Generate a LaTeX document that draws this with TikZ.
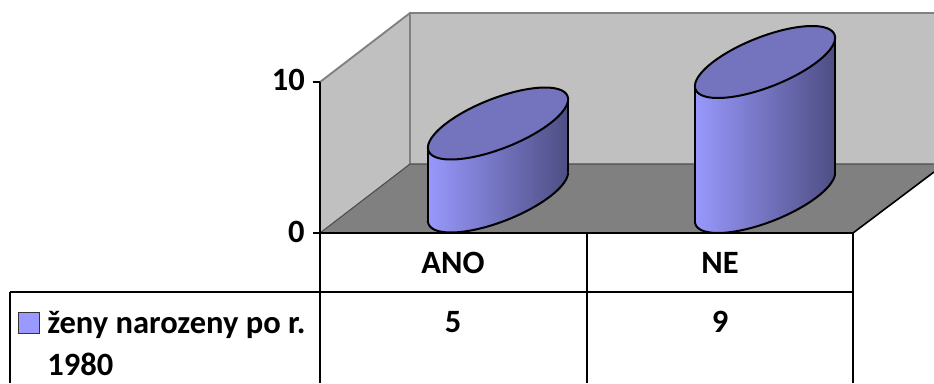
\documentclass[tikz,border=0pt]{standalone}
\usepackage{fontspec}
\setmainfont{Carlito}
\definecolor{wallgray}{RGB}{192,192,192}
\definecolor{floorgray}{RGB}{128,128,128}
\definecolor{edgegray}{RGB}{128,128,128}
\definecolor{sideL}{RGB}{152,152,252}
\definecolor{sideR}{RGB}{78,78,132}
\definecolor{topfill}{RGB}{115,115,190}
\definecolor{legfill}{RGB}{153,153,255}
\tikzset{
  gridline/.style={black, line width=1.4pt},
  wallline/.style={edgegray, line width=1.4pt},
  lbl/.style={font=\fontsize{24.4}{29}\selectfont\bfseries, inner sep=0pt},
  cylline/.style={black, line width=1.5pt},
}
\newcommand\mycyl[3]{%
  % #1 = centre x, #2 = base centre y, #3 = height (pixels)
  \path[left color=sideL, right color=sideR]
    plot[domain=222.1:402.1, samples=60] ({#1+52*cos(\x)+47*sin(\x)},{#2-36*sin(\x)})
    -- plot[domain=402.1:222.1, samples=60] ({#1+52*cos(\x)+47*sin(\x)},{#2-#3-36*sin(\x)})
    -- cycle;
  \draw[cylline] plot[domain=222.1:402.1, samples=60] ({#1+52*cos(\x)+47*sin(\x)},{#2-36*sin(\x)});
  \draw[cylline] ({#1-70.1},{#2+24.1}) -- ({#1-70.1},{#2+24.1-#3});
  \draw[cylline] ({#1+70.1},{#2-24.1}) -- ({#1+70.1},{#2-24.1-#3});
  \draw[cylline, fill=topfill] plot[domain=0:360, samples=90] ({#1+52*cos(\x)+47*sin(\x)},{#2-#3-36*sin(\x)}) -- cycle;
}
\begin{document}
\begin{tikzpicture}[x=0.75pt, y=-0.75pt]
\useasboundingbox (0,0) rectangle (934,383);
% walls and floor
\fill[wallgray] (410,13) rectangle (934,164);
\fill[wallgray] (320,82) -- (410,13) -- (410,164) -- (320,233) -- cycle;
\fill[floorgray] (320,233) -- (410,164) -- (934,164) -- (934,172) -- (853,233) -- cycle;
\draw[wallline] (320,82) -- (410,13) -- (934,13);
\draw[edgegray, line width=0.8pt] (410,13) -- (410,164);
\draw[black!70, line width=0.8pt] (320,233) -- (410,164) -- (934,164);
\draw[black, line width=1.2pt] (853,233) -- (934,172);
% cylinders
\mycyl{498}{196.5}{73}
\mycyl{765}{197}{135}
% axis and ticks
\draw[gridline] (320,82) -- (320,383);
\draw[gridline] (313,82) -- (320,82);
\draw[gridline] (313,233) -- (320,233);
\node[lbl, anchor=base east] (t10) at (305,90) {10};
\node[lbl, anchor=base east] (t0) at (305,242) {0};
% data table
\draw[black, line width=2.2pt] (320,233) -- (853,233);
\draw[gridline] (10,292) -- (853,292);
\draw[gridline] (10,292) -- (10,383);
\draw[gridline] (587,233) -- (587,383);
\draw[gridline] (853,233) -- (853,383);
\node[lbl, anchor=base] (ano) at (453,273) {ANO};
\node[lbl, anchor=base] (ne) at (720,273) {NE};
\node[lbl, anchor=base] (v5) at (453,332) {5};
\node[lbl, anchor=base] (v9) at (720,332) {9};
\node[draw=black!80, line width=1pt, fill=legfill, minimum width=16pt, minimum height=16pt, inner sep=0pt] (key) at (29,323) {};
\node[lbl, anchor=base west] (leg1) at (47,333) {ženy narozeny po r.};
\node[lbl, anchor=base west] (leg2) at (47,375) {1980};
\end{tikzpicture}
\end{document}
